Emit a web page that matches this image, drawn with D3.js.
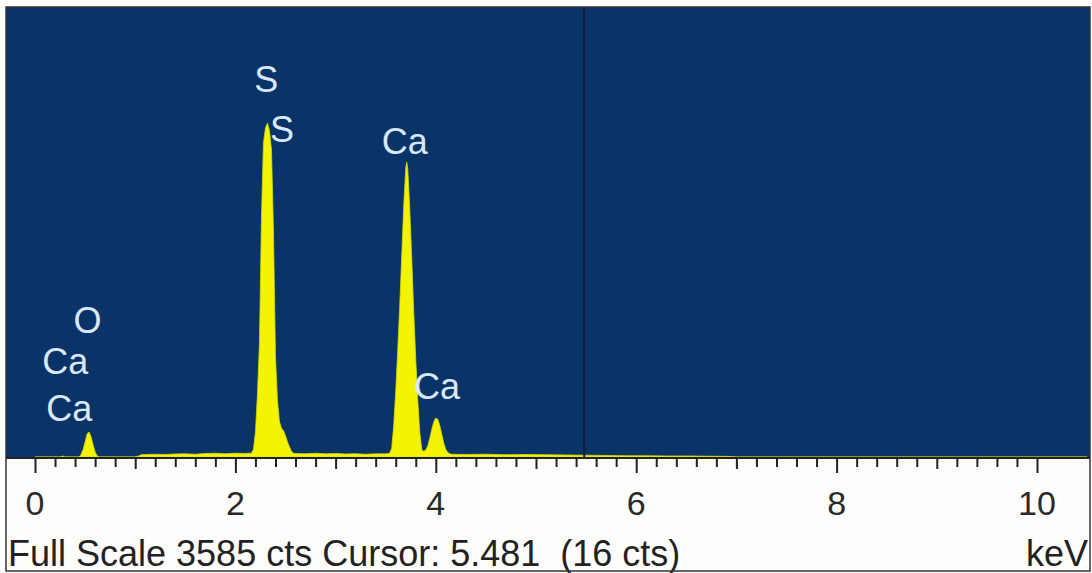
<!DOCTYPE html>
<html><head><meta charset="utf-8">
<script src="https://cdn.jsdelivr.net/npm/d3@7"></script>
<style>
html,body{margin:0;padding:0;background:#fff;}
svg{display:block;font-family:"Liberation Sans",Arial,sans-serif;}
</style></head>
<body>
<svg id="chart" width="1092" height="573"></svg>
<script>
// ---- data ----
const energyKeV = [0.00,0.26,0.28,0.30,0.44,0.46,0.48,0.50,0.52,0.54,0.56,0.58,0.60,0.62,0.64,
  1.00,1.04,1.06,1.10,1.20,1.30,1.40,1.50,1.60,1.70,1.80,1.90,2.00,2.10,2.14,
  2.16,2.18,2.20,2.22,2.24,2.26,2.28,2.30,2.32,2.34,2.36,2.38,2.40,2.42,2.44,2.46,2.48,2.50,2.52,2.54,2.56,2.58,
  2.60,2.70,2.80,2.90,3.00,3.10,3.20,3.30,3.40,3.50,
  3.54,3.56,3.58,3.60,3.62,3.64,3.66,3.68,3.70,3.71,3.72,3.74,3.76,3.78,3.80,3.82,3.84,3.86,3.88,
  3.90,3.92,3.94,3.96,3.98,4.00,4.02,4.04,4.06,4.08,4.10,4.12,4.14,
  4.16,4.30,4.50,4.70,4.90,5.10,5.30,5.50,5.70,5.90,6.10,6.30,6.50,6.70,6.90,7.00,10.50];
const counts = [0,0,8,0,0,20,60,120,185,200,160,95,40,10,0,
  0,10,18,20,22,20,24,25,22,28,30,26,30,28,30,
  30,60,200,500,900,1900,2500,2620,2660,2600,2450,1800,800,450,280,230,210,170,120,80,45,30,
  28,26,30,25,28,24,26,22,25,25,
  30,70,250,520,850,1200,1600,2000,2300,2350,2300,1980,1580,1150,780,450,200,60,45,
  55,90,150,220,280,310,300,250,180,110,60,35,25,
  22,20,22,18,20,18,16,14,12,10,10,8,8,6,5,0,0];
const lineLabels = ["S","S","Ca","Ca","O","Ca","Ca"];
const lineEnergies = [2.307,2.464,3.690,4.012,0.525,0.302,0.341];
const labelLevels = [3010,2610,2510,560,1085,760,390];
const tickLabels = ["0","2","4","6","8","10"];
const fullScale = 3585;
const cursorKeV = 5.481;
const cursorCts = 16;

// ---- layout ----
const svg = d3.select("#chart");
const frame = {left:6, top:7, right:1090, bottom:571};
const baseY = 457;
const axisY = 458;
const x = d3.scaleLinear().domain([0,10]).range([35,1037]);
const y = d3.scaleLinear().domain([0,fullScale]).range([baseY, frame.top]);

// backgrounds
svg.append("rect").attr("x",frame.left).attr("y",frame.top)
  .attr("width",frame.right-frame.left).attr("height",axisY-frame.top).attr("fill","#0a3467");
svg.append("rect").attr("x",frame.left).attr("y",axisY)
  .attr("width",frame.right-frame.left).attr("height",frame.bottom-axisY).attr("fill","#fdfdfb");

// spectrum
const pts = energyKeV.map((e,i)=>[e,counts[i]]);
const area = d3.area().x(d=>x(d[0])).y0(y(0)).y1(d=>y(d[1])).curve(d3.curveLinear);
svg.append("path").datum(pts).attr("d",area)
  .attr("fill","#f4f400").attr("stroke","#d8d800").attr("stroke-width",0.8);

// cursor line
svg.append("line").attr("x1",x(cursorKeV)).attr("x2",x(cursorKeV))
  .attr("y1",frame.top).attr("y2",axisY).attr("stroke","#0b1e3c").attr("stroke-width",2);

// element labels
svg.append("g").selectAll("text").data(lineLabels).join("text")
  .attr("x",(d,i)=>x(lineEnergies[i]))
  .attr("y",(d,i)=>y(labelLevels[i]))
  .attr("text-anchor","middle").attr("dominant-baseline","central")
  .attr("font-size",36).attr("fill","#d8e8f8").text(d=>d);

// axis
const axis = d3.axisBottom(x).tickValues(d3.range(0,51).map(i=>i*0.2))
  .tickSize(0).tickFormat("");
const ag = svg.append("g").attr("transform",`translate(0,${axisY})`).call(axis);
ag.select(".domain").remove();
ag.selectAll(".tick line").attr("stroke","#222").attr("stroke-width",2)
  .attr("y2",(d)=>{const r=Math.round(d*5); return r%10===0?15:(r%5===0?11:9);});
svg.append("line").attr("x1",frame.left).attr("x2",frame.right)
  .attr("y1",axisY).attr("y2",axisY).attr("stroke","#222").attr("stroke-width",2);

svg.append("g").selectAll("text").data(tickLabels).join("text")
  .attr("x",d=>x(+d)).attr("y",515).attr("text-anchor","middle")
  .attr("font-size",34).attr("fill","#2a2a2a").text(d=>d);

svg.append("text").attr("x",8).attr("y",566).attr("font-size",36).attr("fill","#222")
  .attr("xml:space","preserve")
  .text(`Full Scale ${fullScale} cts Cursor: ${cursorKeV.toFixed(3)}  (${cursorCts} cts)`);
svg.append("text").attr("x",frame.right-2).attr("y",566).attr("text-anchor","end")
  .attr("font-size",36).attr("fill","#222").text("keV");

// frame
svg.append("rect").attr("x",frame.left).attr("y",frame.top)
  .attr("width",frame.right-frame.left).attr("height",frame.bottom-frame.top)
  .attr("fill","none").attr("stroke","#333").attr("stroke-width",1.5);
</script>
</body></html>
